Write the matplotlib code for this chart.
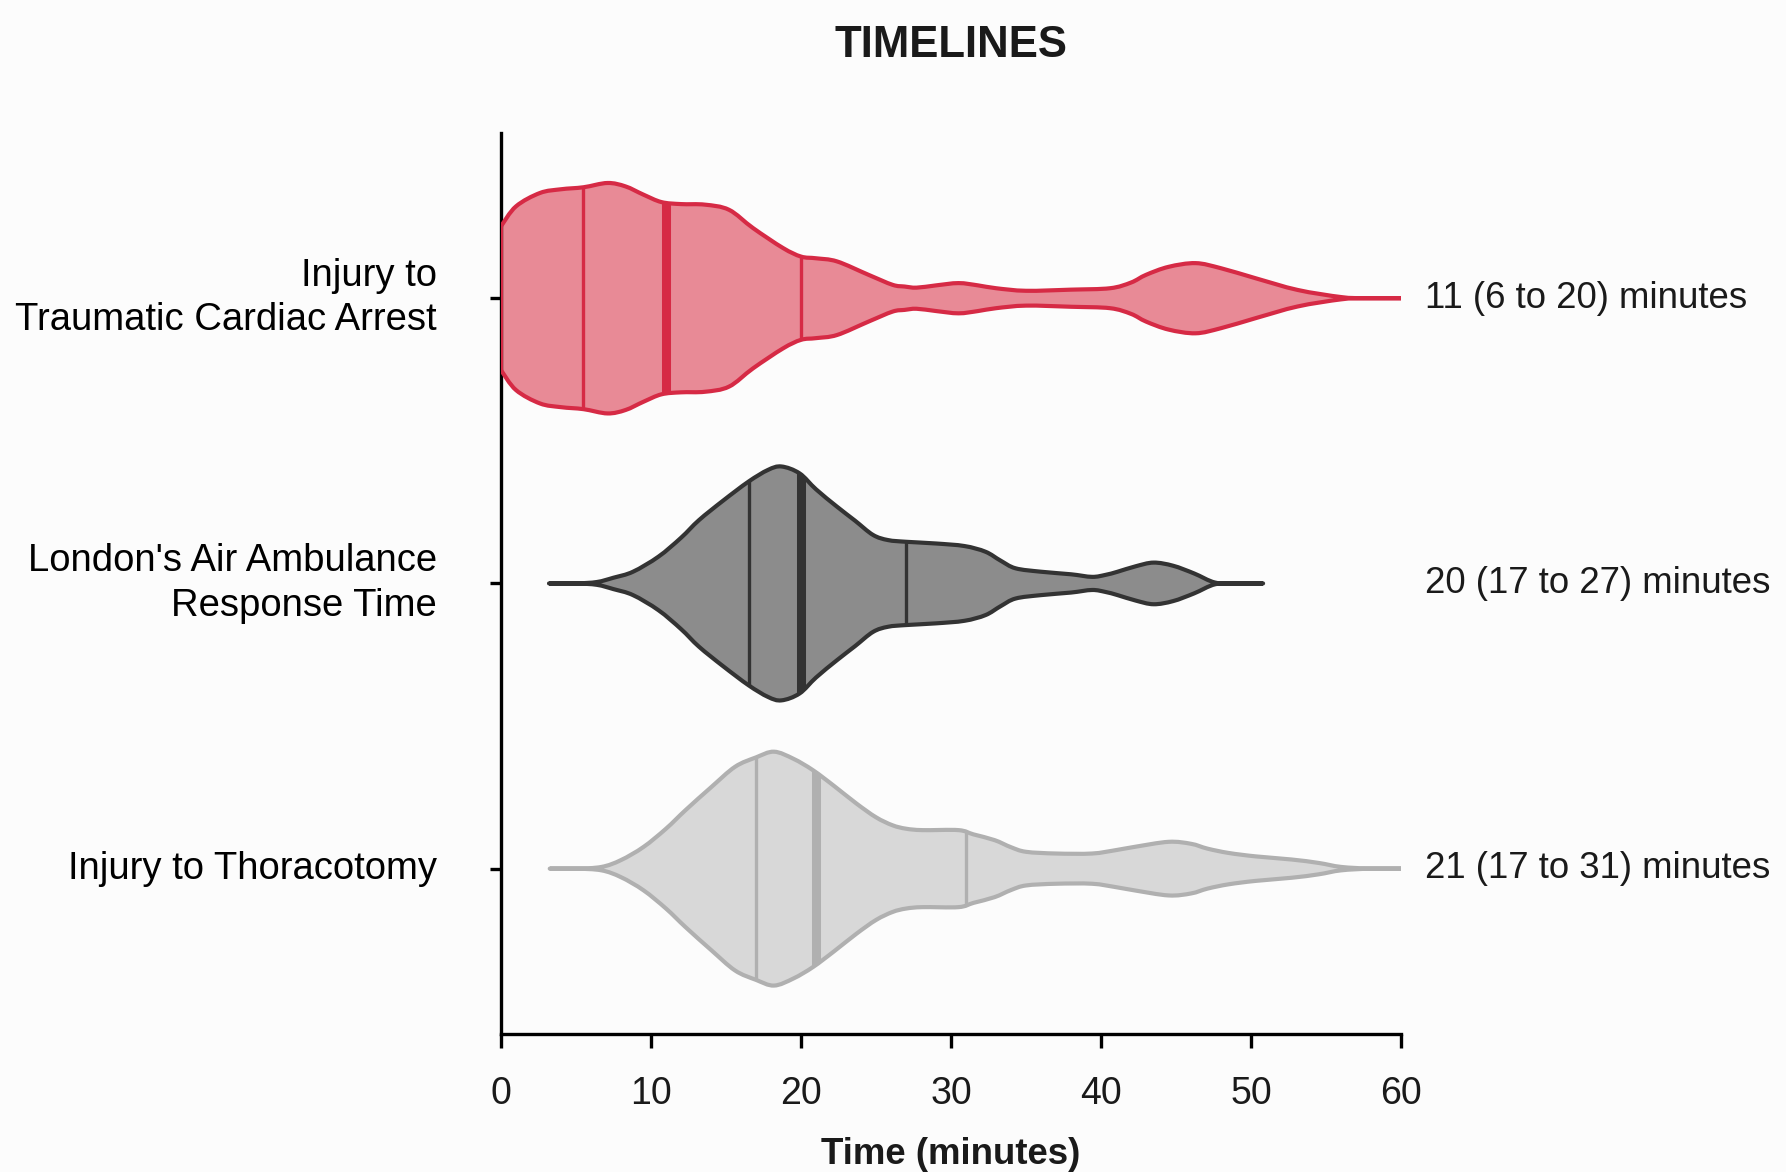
import numpy as np
import matplotlib.pyplot as plt
from matplotlib.path import Path
from matplotlib.patches import PathPatch

plt.rcParams['font.family'] = ['Liberation Sans', 'DejaVu Sans']

categories = ['Injury to\nTraumatic Cardiac Arrest',
              "London's Air Ambulance\nResponse Time",
              'Injury to Thoracotomy']
summaries = ['11 (6 to 20) minutes', '20 (17 to 27) minutes', '21 (17 to 31) minutes']

# violin outlines: time (min) and half-width (category units)
red_t = [0, 1, 2.6, 4, 5.5, 7.1, 8.3, 9.5, 10.7, 12, 13.6, 15.2, 16.8, 18.8, 20, 21,
         22.4, 24.5, 26.1, 26.9, 27.7, 29, 30.5, 31.8, 33, 35, 38, 40.6, 42, 43, 44.5,
         46.3, 48, 50.3, 53.1, 56, 57.5, 60]
red_w = [0.252, 0.322, 0.369, 0.382, 0.389, 0.404, 0.392, 0.363, 0.337, 0.330, 0.328,
         0.310, 0.246, 0.176, 0.146, 0.140, 0.129, 0.082, 0.047, 0.041, 0.037, 0.045,
         0.053, 0.045, 0.035, 0.026, 0.030, 0.035, 0.055, 0.082, 0.110, 0.123, 0.105,
         0.070, 0.029, 0.004, 0.0, 0.0]

dark_t = [3.2, 5, 6.4, 7.5, 8.8, 10.5, 12, 13.2, 14.8, 16.5, 17.8, 18.7, 19.9, 21, 22.4,
          23.6, 24.8, 25.8, 27, 29, 30.9, 32.3, 33.3, 34.3, 36, 38, 39.4, 40.3, 41.1,
          42.3, 43.5, 44.8, 46.2, 47.6, 49, 50.8]
dark_w = [0, 0, 0.005, 0.02, 0.041, 0.094, 0.16, 0.222, 0.29, 0.357, 0.398, 0.410, 0.386,
          0.33, 0.269, 0.22, 0.170, 0.152, 0.146, 0.140, 0.131, 0.111, 0.08, 0.053, 0.041,
          0.032, 0.023, 0.03, 0.041, 0.06, 0.073, 0.062, 0.035, 0.003, 0, 0]

light_t = [3.25, 5, 6.7, 8, 9.5, 11, 12.3, 14, 15.6, 17, 18.2, 19.5, 20.8, 22.2, 23.7, 25,
           26.1, 27, 28.1, 30.5, 31.5, 32.9, 34, 35, 37, 39.4, 41, 42.2, 44.5, 46, 47.1,
           48.5, 50.3, 52.7, 54.5, 56, 58, 60]
light_w = [0, 0, 0.006, 0.03, 0.076, 0.14, 0.205, 0.285, 0.357, 0.390, 0.410, 0.385, 0.345,
           0.29, 0.228, 0.18, 0.152, 0.14, 0.135, 0.135, 0.12, 0.10, 0.075, 0.059, 0.053,
           0.053, 0.065, 0.076, 0.094, 0.087, 0.070, 0.055, 0.043, 0.032, 0.02, 0.006, 0, 0]

quartiles = [(5.5, 11, 20), (16.5, 20, 27), (17, 21, 31)]

fills = ['#e88a96', '#8c8c8c', '#d8d8d8']
edges = ['#d62a45', '#333333', '#b0b0b0']


def curve(pts, first_code):
    # smooth curve through the points (Catmull-Rom as Bezier segments)
    n = len(pts)
    verts = [pts[0]]
    codes = [first_code]
    for k in range(n - 1):
        p0, p1 = pts[max(k - 1, 0)], pts[k]
        p2, p3 = pts[k + 1], pts[min(k + 2, n - 1)]
        verts += [p1 + (p2 - p0) / 6, p2 - (p3 - p1) / 6, p2]
        codes += [Path.CURVE4] * 3
    return verts, codes


fig = plt.figure(figsize=(17.86, 11.72), dpi=100, facecolor='#fcfcfc')
ax = fig.add_axes([0.2805, 0.1177, 0.504, 0.769])
ax.set_facecolor('#fcfcfc')

profiles = [(red_t, red_w), (dark_t, dark_w), (light_t, light_w)]
for i, (t, w) in enumerate(profiles):
    t = np.array(t, float)
    w = np.array(w, float)
    upper = np.column_stack([t, i - w])
    lower = np.column_stack([t, i + w])[::-1]
    v1, c1 = curve(upper, Path.MOVETO)
    v2, c2 = curve(lower, Path.LINETO)
    verts = v1 + v2 + [upper[0]]
    codes = c1 + c2 + [Path.CLOSEPOLY]
    path = Path(np.array(verts), codes)
    body = PathPatch(path, facecolor=fills[i], edgecolor='none', zorder=2)
    ax.add_patch(body)
    for j, q in enumerate(quartiles[i]):
        ln, = ax.plot([q, q], [i - 0.5, i + 0.5], color=edges[i],
                      lw=6.5 if j == 1 else 2.4, solid_capstyle='butt', zorder=3)
        ln.set_clip_path(body)
    ax.add_patch(PathPatch(path, facecolor='none', edgecolor=edges[i], lw=3.0,
                           joinstyle='round', zorder=4))
    ax.text(61.6, i, summaries[i], ha='left', va='center', fontsize=26.4,
            color='#1a1a1a', clip_on=False)

ax.set_xlim(0, 60)
ax.set_ylim(2.58, -0.58)
ax.set_xticks(range(0, 61, 10))
ax.set_yticks(range(len(categories)))
ax.set_yticklabels(categories, fontsize=27.5, color='#1a1a1a', linespacing=1.3,
                   va='center')
ax.tick_params(axis='x', labelsize=27, length=10, width=2.4, pad=20,
               colors='black', labelcolor='#1a1a1a')
ax.tick_params(axis='y', length=8, width=2.4, pad=38, colors='black')
for s in ['top', 'right']:
    ax.spines[s].set_visible(False)
for s in ['left', 'bottom']:
    ax.spines[s].set_linewidth(2.4)
    ax.spines[s].set_color('black')

ax.set_xlabel('Time (minutes)', fontsize=26.4, fontweight='bold', labelpad=18,
              color='#1a1a1a')
fig.text(0.5325, 0.961, 'TIMELINES', fontsize=31.5, fontweight='bold',
         ha='center', va='center', color='#1a1a1a')

fig.savefig('out.png', dpi=100, facecolor=fig.get_facecolor())
